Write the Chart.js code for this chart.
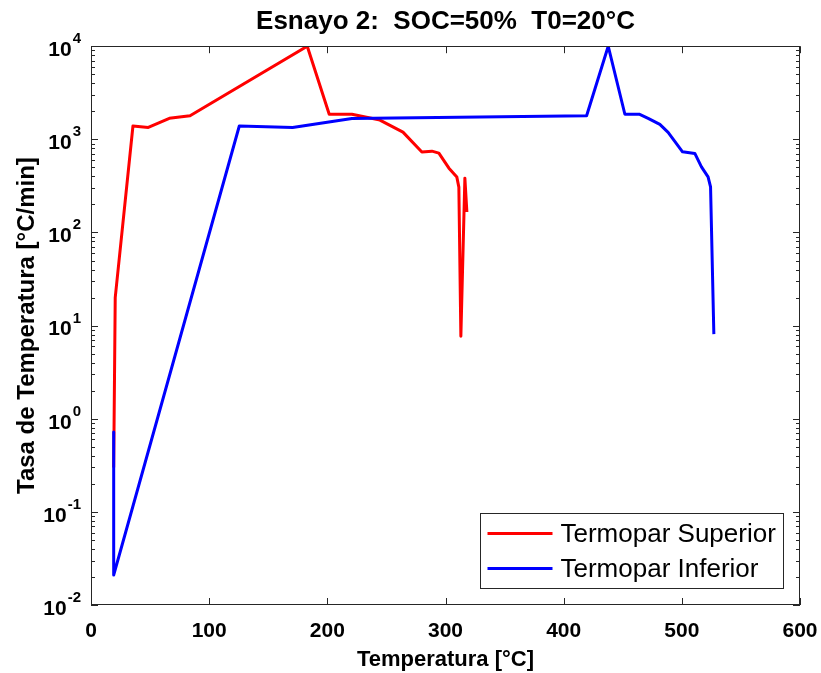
<!DOCTYPE html>
<html>
<head>
<meta charset="utf-8">
<title>Esnayo 2</title>
<script src="https://cdn.jsdelivr.net/npm/chart.js@4.4.0/dist/chart.umd.min.js"></script>
<style>
  html, body { margin: 0; padding: 0; background: #fff; }
  #wrap { width: 821px; height: 673px; }
</style>
</head>
<body>
<div id="wrap"><canvas id="rateChart" width="821" height="673"></canvas></div>
<script>
  // Termopar Superior (red) - temperature [°C] vs rate [°C/min]
  const superiorTemp = [19.2, 20.5, 35.5, 48.5, 66.3, 83.8, 183, 201.6, 220.8, 244.5, 264, 280, 288.5, 294.4, 302.9, 309.6, 311.3, 313, 316.4, 318.1];
  const superiorRate = [0.3, 20, 1390, 1340, 1680, 1790, 10000, 1860, 1860, 1610, 1195, 730, 747, 712, 490, 393, 307, 7.7, 383, 166];

  // Termopar Inferior (blue)
  const inferiorTemp = [19.2, 19.2, 125.5, 170.6, 220.8, 419.4, 437.7, 451.8, 463.9, 471.5, 481.4, 488.4, 500.6, 511, 516.6, 522.2, 524.3, 527.1];
  const inferiorRate = [0.72, 0.021, 1390, 1340, 1670, 1790, 10000, 1860, 1860, 1680, 1445, 1186, 735, 706, 507, 396, 309, 8.1];

  const seriesNames = ['Termopar Superior', 'Termopar Inferior'];
  const seriesColors = ['#ff0000', '#0000ff'];

  const xTicks = [0, 100, 200, 300, 400, 500, 600];
  const yDecades = [-2, -1, 0, 1, 2, 3, 4];

  const FONT = "'Liberation Sans', Arial, sans-serif";
  const AXIS_COLOR = '#262626';

  function toPoints(xs, ys) {
    return xs.map((x, i) => ({ x, y: ys[i] }));
  }

  // MATLAB style box with inward ticks (major + log minor) and 10^n labels
  const matlabAxes = {
    id: 'matlabAxes',
    afterDatasetsDraw(chart) {
      const { ctx, chartArea: a, scales: { x, y } } = chart;
      ctx.save();
      ctx.strokeStyle = AXIS_COLOR;
      ctx.lineWidth = 1;
      ctx.beginPath();
      xTicks.forEach(v => {
        const px = Math.round(x.getPixelForValue(v)) + 0.5;
        ctx.moveTo(px, a.bottom); ctx.lineTo(px, a.bottom - 7);
        ctx.moveTo(px, a.top); ctx.lineTo(px, a.top + 7);
      });
      yDecades.forEach(e => {
        for (let m = 1; m < 10; m++) {
          if (e === yDecades[yDecades.length - 1] && m > 1) break;
          const py = Math.round(y.getPixelForValue(m * Math.pow(10, e))) + 0.5;
          const len = m === 1 ? 7 : 4;
          ctx.moveTo(a.left, py); ctx.lineTo(a.left + len, py);
          ctx.moveTo(a.right, py); ctx.lineTo(a.right - len, py);
        }
      });
      ctx.stroke();
      ctx.strokeRect(Math.round(a.left) + 0.5, Math.round(a.top) + 0.5,
                     Math.round(a.width) - 1, Math.round(a.height) - 1);

      // y tick labels: "10" with raised exponent
      ctx.fillStyle = '#000';
      ctx.textAlign = 'right';
      const xr = a.left - 10;
      yDecades.forEach(e => {
        const py = y.getPixelForValue(Math.pow(10, e));
        ctx.font = 'bold 15px ' + FONT;
        ctx.textBaseline = 'alphabetic';
        const expText = String(e);
        const ew = ctx.measureText(expText).width;
        ctx.fillText(expText, xr, py - 3);
        ctx.font = 'bold 21px ' + FONT;
        ctx.textBaseline = 'middle';
        ctx.fillText('10', xr - ew - 1, py + 4);
      });
      ctx.restore();
    }
  };

  // legend box in lower right corner of the plot
  const boxLegend = {
    id: 'boxLegend',
    afterDraw(chart) {
      const { ctx, chartArea: a } = chart;
      const w = 303, h = 75;
      const x0 = Math.round(a.right - 17 - w) + 0.5;
      const y0 = Math.round(a.bottom - 17 - h) + 0.5;
      ctx.save();
      ctx.fillStyle = '#fff';
      ctx.fillRect(x0, y0, w, h);
      ctx.strokeStyle = AXIS_COLOR;
      ctx.lineWidth = 1;
      ctx.strokeRect(x0, y0, w, h);
      ctx.font = '26px ' + FONT;
      ctx.textBaseline = 'middle';
      ctx.fillStyle = '#000';
      chart.data.datasets.forEach((ds, i) => {
        const cy = y0 + 20 + i * 35;
        ctx.strokeStyle = ds.borderColor;
        ctx.lineWidth = 3;
        ctx.beginPath();
        ctx.moveTo(x0 + 7, cy);
        ctx.lineTo(x0 + 72, cy);
        ctx.stroke();
        ctx.fillText(ds.label, x0 + 80, cy + 1);
      });
      ctx.restore();
    }
  };

  const canvas = document.getElementById('rateChart');

  new Chart(canvas, {
    type: 'line',
    data: {
      datasets: [
        {
          label: seriesNames[0],
          data: toPoints(superiorTemp, superiorRate),
          borderColor: seriesColors[0],
          borderWidth: 3,
          borderJoinStyle: 'round',
          pointRadius: 0,
          tension: 0,
          fill: false,
          order: 1
        },
        {
          label: seriesNames[1],
          data: toPoints(inferiorTemp, inferiorRate),
          borderColor: seriesColors[1],
          borderWidth: 3,
          borderJoinStyle: 'round',
          pointRadius: 0,
          tension: 0,
          fill: false,
          order: 0
        }
      ]
    },
    options: {
      responsive: false,
      animation: false,
      devicePixelRatio: 1,
      layout: { padding: { left: 0, right: 21, top: 0, bottom: 0 } },
      plugins: {
        legend: { display: false },
        tooltip: { enabled: false },
        title: {
          display: true,
          fullSize: false,
          text: 'Esnayo 2:  SOC=50%  T0=20°C',
          color: '#000',
          font: { family: FONT, size: 26, weight: 'bold' },
          padding: { top: 6, bottom: 9 }
        }
      },
      scales: {
        x: {
          type: 'linear',
          min: 0,
          max: 600,
          afterBuildTicks: scale => { scale.ticks = xTicks.map(v => ({ value: v })); },
          afterFit: scale => {
            scale.height = 68;
            scale.paddingLeft = 0;
            scale.paddingRight = 0;
          },
          grid: { display: false, drawTicks: false },
          border: { display: false },
          ticks: {
            color: '#000',
            padding: 14,
            maxRotation: 0,
            font: { family: FONT, size: 21, weight: 'bold' }
          },
          title: {
            display: true,
            text: 'Temperatura [°C]',
            color: '#000',
            padding: { top: 4, bottom: 0 },
            font: { family: FONT, size: 22, weight: 'bold' }
          }
        },
        y: {
          type: 'logarithmic',
          min: 0.01,
          max: 10000,
          afterBuildTicks: scale => { scale.ticks = yDecades.map(e => ({ value: Math.pow(10, e) })); },
          afterFit: scale => {
            scale.width = 91;
            scale.paddingTop = 0;
            scale.paddingBottom = 0;
          },
          grid: { display: false, drawTicks: false },
          border: { display: false },
          ticks: {
            color: '#000',
            padding: 8,
            font: { family: FONT, size: 21, weight: 'bold' },
            callback: () => ''
          },
          title: {
            display: true,
            text: 'Tasa de Temperatura [°C/min]',
            color: '#000',
            padding: { top: 13, bottom: 0 },
            font: { family: FONT, size: 24, weight: 'bold' }
          }
        }
      }
    },
    plugins: [matlabAxes, boxLegend]
  });
</script>
</body>
</html>
